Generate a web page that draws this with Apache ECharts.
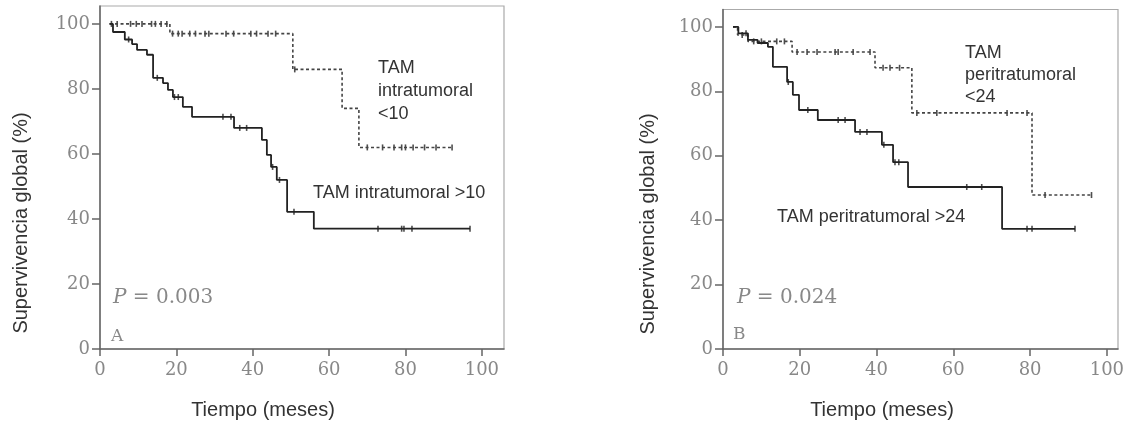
<!DOCTYPE html>
<html>
<head>
<meta charset="utf-8">
<script src="https://cdn.jsdelivr.net/npm/echarts@6/dist/echarts.min.js"></script>
<style>
  html, body { margin: 0; padding: 0; background: #fff; }
  #chart { width: 1128px; height: 423px; }
</style>
</head>
<body>
<div id="chart"></div>
<script>
// Kaplan–Meier curves: each point is [time of event, survival after the event].
// Panel A: TAM intratumoral
const timeA_low  = [2.5, 18.3, 50.5, 63.4, 67.8, 92.2];
const survA_low  = [100, 97, 86, 74, 62, 62];
const censA_low  = [3, 4.5, 8, 9.5, 11, 13.5, 14.5, 16, 17.5,
                    19, 20.5, 21.5, 23.5, 25, 27.5, 28.5, 33, 35, 39.5, 41, 44, 46,
                    51, 70, 74, 77, 79, 80, 82, 85, 88, 92.2];

const timeA_high = [2.5, 3.4, 6.5, 8.4, 9.7, 12.3, 13.9, 16.5, 17.8, 19.1, 21.7, 24.1,
                    35.1, 42.4, 43.7, 44.8, 46.3, 49, 56, 96.9];
const survA_high = [100, 97.5, 95.2, 93.8, 92, 90.5, 83.4, 81.8, 79.7, 77.5, 74.5, 71.4,
                    68, 64.3, 59.7, 56, 52, 42.2, 37, 37];
const censA_high = [7.5, 15, 19.5, 20.5, 32.2, 34.3, 36.6, 38.4, 45.2, 47, 50.8,
                    72.8, 79, 79.6, 81.7, 96.9];

// Panel B: TAM peritratumoral
const timeB_low  = [2.6, 3.8, 6.5, 18, 39.6, 49.2, 80.5, 96];
const survB_low  = [100, 97.5, 95.5, 92.2, 87.3, 73.3, 47.8, 47.8];
const censB_low  = [5, 8, 10, 14, 16, 19.3, 21.9, 24.5, 29.2, 30, 33.9, 38.3,
                    41.7, 43.5, 46, 50.5, 55.7, 74, 79.2, 83.9, 96];

const timeB_high = [2.6, 4, 6.5, 9, 11.7, 13, 16.7, 18.2, 19.8, 24.7, 34.4, 41.4, 44.3, 48.2, 72.7, 91.7];
const survB_high = [100, 98, 96, 95, 93.8, 87.6, 82.9, 78.9, 74.2, 71.1, 67.4, 63.4, 58, 50.3, 37.3, 37.3];
const censB_high = [6, 17, 22.1, 30, 31.8, 35.7, 37.5, 41.9, 44.8, 45.8, 63.5, 67.4, 79.2, 80.5, 91.7];

const tickValues = [0, 20, 40, 60, 80, 100];

function pairs(t, s) { return t.map((v, i) => [v, s[i]]); }
// survival level of a step curve at a given time (for placing censor ticks)
function levelAt(t, s, x) {
  let v = s[0];
  for (let i = 0; i < t.length; i++) { if (t[i] <= x) v = s[i]; }
  return v;
}
function censorPoints(t, s, c) { return c.map(x => [x, levelAt(t, s, x)]); }

const ink = '#222';
const serif = 'DejaVu Serif';
const sans = 'Liberation Sans';

function xAxis(gridIndex, max) {
  return {
    type: 'value', gridIndex, min: 0, max,
    axisLine: { show: true, onZero: false, lineStyle: { color: '#666', width: 1.5 } },
    axisTick: { show: true, length: 7, customValues: tickValues, lineStyle: { color: '#666', width: 1.5 } },
    axisLabel: { customValues: tickValues, margin: 12, color: '#888', fontFamily: serif, fontSize: 18 },
    splitLine: { show: false }
  };
}
function yAxis(gridIndex, max) {
  return {
    type: 'value', gridIndex, min: 0, max,
    axisLine: { show: true, onZero: false, lineStyle: { color: '#666', width: 1.5 } },
    axisTick: { show: true, length: 8, customValues: tickValues, lineStyle: { color: '#666', width: 1.5 } },
    axisLabel: { customValues: tickValues, margin: 10, color: '#888', fontFamily: serif, fontSize: 18 },
    splitLine: { show: false }
  };
}

function curve(idx, t, s, dashed) {
  return {
    type: 'line', xAxisIndex: idx, yAxisIndex: idx, step: 'end',
    data: pairs(t, s), symbol: 'none', silent: true,
    lineStyle: dashed ? { color: '#444', width: 1.6, type: [3, 2.5] } : { color: ink, width: 1.8 }
  };
}
function censors(idx, t, s, c) {
  return {
    type: 'scatter', xAxisIndex: idx, yAxisIndex: idx, silent: true,
    data: censorPoints(t, s, c), symbol: 'rect', symbolSize: [1.6, 6],
    itemStyle: { color: ink }
  };
}

function txt(x, y, text, size, extra) {
  return { type: 'text', x, y, style: Object.assign({ text, fontFamily: sans, fontSize: size,
    fill: '#333', textVerticalAlign: 'middle' }, extra || {}) };
}
function pText(x, y, value) {
  return { type: 'text', x, y, style: { text: '{i|P} = ' + value, fontFamily: serif, fontSize: 20,
    fill: '#888', textVerticalAlign: 'middle',
    rich: { i: { fontStyle: 'italic', fontFamily: serif, fontSize: 20, fill: '#888' } } } };
}

const chart = echarts.init(document.getElementById('chart'), null, { renderer: 'canvas' });
chart.setOption({
  animation: false,
  grid: [
    { left: 100, top: 6, width: 404, height: 343, show: true, borderColor: '#aaa', borderWidth: 1.2 },
    { left: 723, top: 9.5, width: 395, height: 339.5, show: true, borderColor: '#aaa', borderWidth: 1.2 }
  ],
  xAxis: [xAxis(0, 105.8), xAxis(1, 102.9)],
  yAxis: [yAxis(0, 105.5), yAxis(1, 105.4)],
  series: [
    curve(0, timeA_low, survA_low, true),
    censors(0, timeA_low, survA_low, censA_low),
    curve(0, timeA_high, survA_high, false),
    censors(0, timeA_high, survA_high, censA_high),
    curve(1, timeB_low, survB_low, true),
    censors(1, timeB_low, survB_low, censB_low),
    curve(1, timeB_high, survB_high, false),
    censors(1, timeB_high, survB_high, censB_high)
  ],
  graphic: [
    // axis titles
    { type: 'text', x: 21, y: 223, rotation: Math.PI / 2,
      style: { text: 'Supervivencia global (%)', fontFamily: sans, fontSize: 20, fill: '#333',
               textAlign: 'center', textVerticalAlign: 'middle' } },
    { type: 'text', x: 648, y: 224, rotation: Math.PI / 2,
      style: { text: 'Supervivencia global (%)', fontFamily: sans, fontSize: 20, fill: '#333',
               textAlign: 'center', textVerticalAlign: 'middle' } },
    txt(263, 410, 'Tiempo (meses)', 20, { textAlign: 'center' }),
    txt(882, 410, 'Tiempo (meses)', 20, { textAlign: 'center' }),
    // curve labels, panel A
    txt(378, 68, 'TAM', 18),
    txt(378, 91, 'intratumoral', 18),
    txt(378, 114, '<10', 18),
    txt(313, 193, 'TAM intratumoral >10', 18),
    // curve labels, panel B
    txt(965, 53, 'TAM', 18),
    txt(965, 75, 'peritratumoral', 18),
    txt(965, 97, '<24', 18),
    txt(777, 217, 'TAM peritratumoral >24', 18),
    // log-rank p values and panel letters
    pText(113, 298, '0.003'),
    pText(737, 298, '0.024'),
    { type: 'text', x: 111, y: 337, style: { text: 'A', fontFamily: serif, fontSize: 17, fill: '#888', textVerticalAlign: 'middle' } },
    { type: 'text', x: 733, y: 335, style: { text: 'B', fontFamily: serif, fontSize: 17, fill: '#888', textVerticalAlign: 'middle' } }
  ]
});
</script>
</body>
</html>
